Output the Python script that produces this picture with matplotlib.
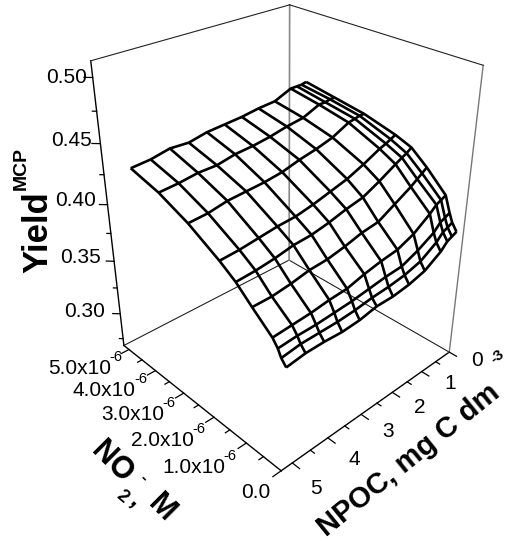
import numpy as np
import matplotlib
matplotlib.use('Agg')
import matplotlib.pyplot as plt

plt.rcParams['font.family'] = ['Liberation Sans', 'DejaVu Sans']

W, H = 510, 541

# surface grid
no2_grid = [0.17, 0.30, 0.39, 0.53, 1.07, 1.51, 1.96, 2.86, 3.75, 4.65]
npoc_grid = [5, 4.5, 4, 3.5, 3, 2.5, 2, 1.5, 1, .5, .3, .15, 0]
yield_rows = [
    [.349, .351, .351, .350, .351, .354, .354, .356, .360, .369, .375, .377, .379],
    [.354, .356, .356, .356, .357, .359, .360, .362, .366, .375, .381, .383, .385],
    [.360, .361, .361, .362, .363, .365, .367, .368, .374, .382, .388, .390, .392],
    [.366, .367, .368, .370, .371, .375, .378, .380, .386, .396, .401, .403, .405],
    [.380, .380, .382, .385, .386, .389, .393, .395, .403, .411, .415, .418, .421],
    [.392, .393, .395, .398, .399, .402, .406, .409, .416, .424, .427, .429, .432],
    [.401, .402, .404, .406, .407, .410, .414, .418, .424, .431, .433, .435, .437],
    [.416, .417, .420, .421, .422, .424, .428, .431, .435, .442, .443, .444, .444],
    [.427, .428, .430, .430, .433, .434, .436, .439, .441, .447, .447, .448, .448],
    [.434, .435, .438, .437, .440, .441, .442, .444, .445, .451, .451, .451, .452],
]

# axis ticks
npoc_ticks = [0, .5, 1, 1.5, 2, 2.5, 3, 3.5, 4, 4.5, 5]
no2_ticks = [0, .5, 1, 1.5, 2, 2.5, 3, 3.5, 4, 4.5, 5]
yield_ticks = [.275, .30, .325, .35, .375, .40, .425, .45, .475, .50]
x0, x1 = 0, 5.2
y0, y1 = 0, 5.3
z0, z1 = .268, .512


def px_text(px, py, s, **kw):
    fig.text(px / W, 1 - py / H, s, **kw)


fig = plt.figure(figsize=(W / 100, H / 100), dpi=100)
ax = fig.add_axes([44.4 / W, 80.4 / H, 470 / W, 470 / H], projection='3d')
ax.computed_zorder = False
ax.set_box_aspect((1, 0.9913, 1.2983))
ax.view_init(30.336, 136.61)
ax.set_proj_type('persp', focal_length=0.3491)
ax.set_axis_off()

# box frame
thin = dict(color='#222222', lw=0.8, zorder=1, clip_on=False)
dark = dict(color='k', lw=1.0, zorder=1, clip_on=False)
ax.plot([x1, x0], [y1, y1], [z0, z0], **dark)
ax.plot([x0, x0], [y1, y0], [z0, z0], **dark)
ax.plot([x0, x1], [y0, y0], [z0, z0], **thin)
ax.plot([x1, x1], [y0, y1], [z0, z0], **thin)
ax.plot([x1, x1], [y1, y1], [z0, z1], **dark)
ax.plot([x1, x1], [y0, y0], [z0, z1], color='#888888', lw=1.2, zorder=1, clip_on=False)
ax.plot([x0, x0], [y0, y0], [z0, z1], color='#777777', lw=1.0, zorder=1, clip_on=False)
ax.plot([x1, x1], [y1, y0], [z1, z1], **thin)
ax.plot([x1, x0], [y0, y0], [z1, z1], **thin)

# ticks
tick = dict(color='k', lw=0.9, zorder=1, clip_on=False)
for c in npoc_ticks:
    d = .2 if c == int(c) else .11
    ax.plot([x0, x0 - d], [c, c], [z0, z0], **tick)
for n in no2_ticks:
    d = .22 if n == int(n) else .12
    ax.plot([n, n], [y1, y1 + d], [z0, z0], **tick)
for i, v in enumerate(yield_ticks):
    d = .06 if i % 2 == 0 else .12
    ax.plot([x1, x1 + d], [y1, y1 + d], [v, v], **tick)

X, Y = np.meshgrid(no2_grid, npoc_grid, indexing='ij')
ax.plot_wireframe(X, Y, np.array(yield_rows), color='k', linewidth=1.9, zorder=3)

ax.set_xlim(x0, x1)
ax.set_ylim(y0, y1)
ax.set_zlim(z0, z1)

# tick labels
for s, px, py in zip(['0.50', '0.45', '0.40', '0.35', '0.30'],
                     [87, 92, 96, 101, 105], [83, 146, 206, 263, 317]):
    px_text(px, py, s, fontsize=15, ha='right', va='baseline')
for s, px, py in zip(['5.0x10', '4.0x10', '3.0x10', '2.0x10', '1.0x10'],
                     [122, 147, 175, 205, 236], [374, 396, 420, 446, 473]):
    px_text(px - 11, py, s, fontsize=15, ha='right', va='baseline')
    px_text(px, py - 13, '-6', fontsize=10.5, ha='right', va='baseline')
px_text(270, 498, '0.0', fontsize=15, ha='right', va='baseline')
for s, px, py in zip(['0', '1', '2', '3', '4', '5'],
                     [477, 450, 420, 388, 354, 316], [366, 389, 413, 437, 465, 494]):
    px_text(px, py, s, fontsize=15, ha='center', va='baseline')

# axis titles
bold = dict(fontweight='bold', rotation_mode='anchor')
px_text(47, 273, 'Yield', fontsize=25, rotation=90, ha='left', va='baseline', **bold)
px_text(26, 190, 'MCP', fontsize=14, rotation=90, ha='left', va='baseline', **bold)
px_text(414, 466, 'NPOC, mg C dm', fontsize=21, rotation=39, ha='center', va='baseline', **bold)
px_text(497, 357, '-3', fontsize=11, rotation=38, ha='center', va='center', **bold)
px_text(112, 462, 'NO', fontsize=22, rotation=-45, ha='center', va='center', **bold)
px_text(143, 478, '-', fontsize=12, rotation=-45, ha='center', va='center', **bold)
px_text(122, 497, '2', fontsize=13, rotation=-40, ha='center', va='center', **bold)
px_text(136, 501, ',', fontsize=18, rotation=-45, ha='center', va='center', **bold)
px_text(162, 508, 'M', fontsize=22, rotation=-45, ha='center', va='center', **bold)

fig.savefig('out.png', dpi=100)
